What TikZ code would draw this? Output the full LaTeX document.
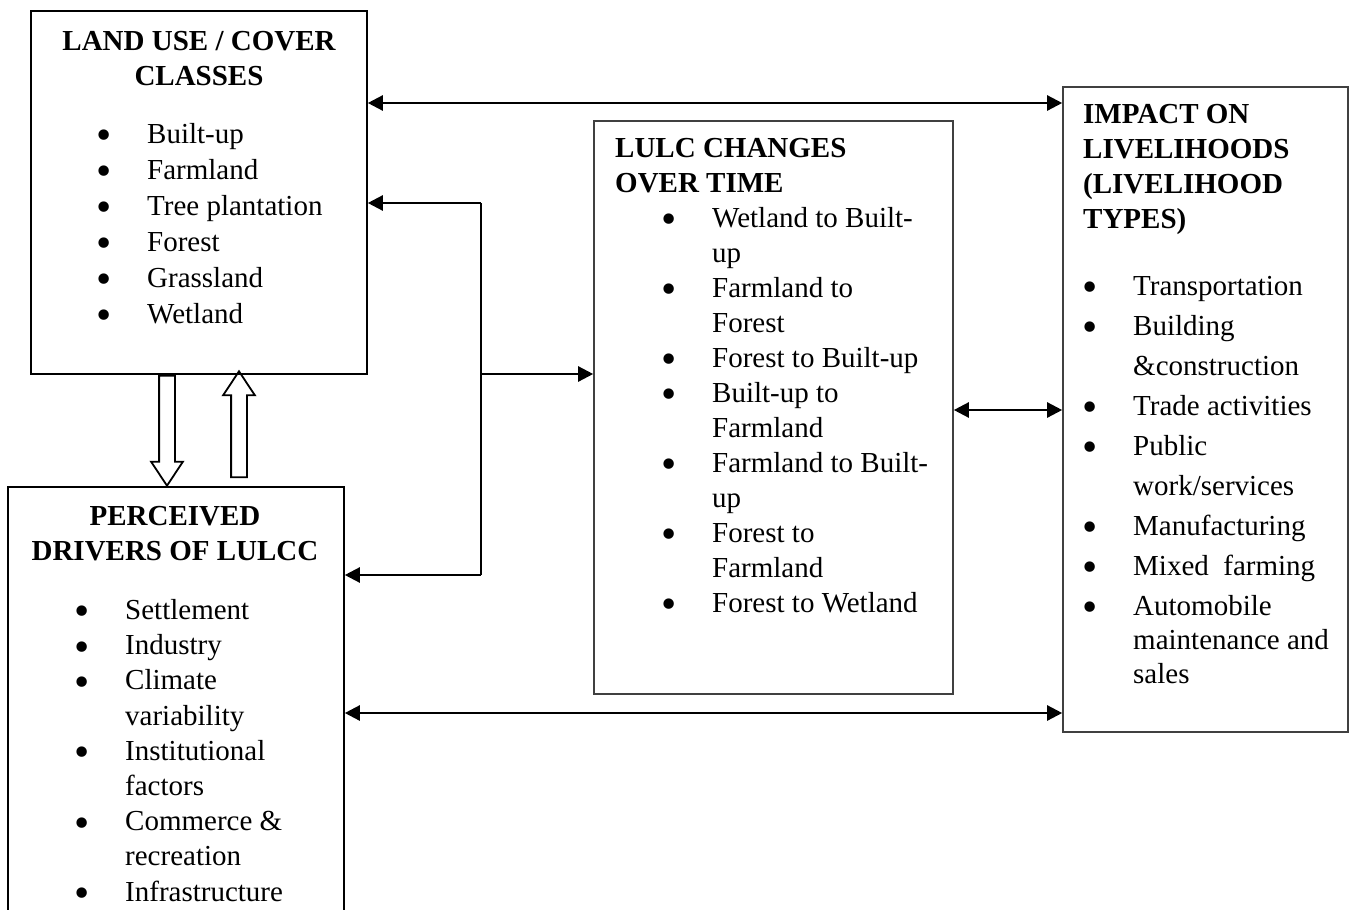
\documentclass[tikz,border=0pt]{standalone}
\usepackage{fontspec}
\setmainfont{Liberation Serif}
\usetikzlibrary{arrows.meta,shapes.arrows}
\tikzset{
  box/.style={draw=#1,line width=1.6pt,inner sep=0pt},
  box/.default={black},
  hd/.style={font=\fontsize{29}{35}\selectfont\bfseries,inner sep=0pt},
  lst/.style={font=\fontsize{29}{#1}\selectfont,inner sep=0pt,align=left,anchor=base west},
  arr/.style={-{Triangle[length=15pt,width=15pt]},line width=2.4pt},
  dbl/.style={{Triangle[length=15pt,width=15pt]}-{Triangle[length=15pt,width=15pt]},line width=2.4pt},
  hollow/.style={draw,line width=1.8pt,single arrow,single arrow head extend=8pt,single arrow tip angle=67,inner sep=0pt,inner ysep=7pt,minimum height=#1},
}
\newcommand{\bul}{\makebox[0pt]{\raisebox{-6.5pt}{\scalebox{1.5}{\textbullet}}}\hspace*{43pt}}
\newcommand{\ind}{\hspace*{43pt}}

\begin{document}
\begin{tikzpicture}[x=1pt,y=-1pt]
 \useasboundingbox (0,0) rectangle (1352,910);
 \clip (0,0) rectangle (1352,910);
 % boxes
 \node[box,minimum width=336pt,minimum height=363pt] (luc) at (199,192.5) {};
 \node[box,minimum width=336pt,minimum height=446pt] (drv) at (176,710) {};
 \node[box=black!75,minimum width=359pt,minimum height=573pt] (chg) at (773.5,407.5) {};
 \node[box=black!75,minimum width=285pt,minimum height=645pt] (imp) at (1205.5,409.5) {};
 % headings (base = last line)
 \node[hd,align=center,anchor=base] (lucH) at (199,85) {LAND USE / COVER\\CLASSES};
 \node[hd,align=center,anchor=base] (drvH) at (175,560) {PERCEIVED\\DRIVERS OF LULCC};
 \node[hd,align=left,anchor=base west] (chgH) at (615,192) {LULC CHANGES\\OVER TIME};
 \node[hd,align=left,anchor=base west] (impH) at (1083,228) {IMPACT ON\\LIVELIHOODS\\(LIVELIHOOD\\TYPES)};
 % lists
 \node[lst=36pt] (lucL) at (104,323) {\bul Built-up\\\bul Farmland\\\bul Tree plantation\\\bul Forest\\\bul Grassland\\\bul Wetland};
 \node[lst=35.2pt] (drvL) at (82,901) {\bul Settlement\\\bul Industry\\\bul Climate\\\ind variability\\\bul Institutional\\\ind factors\\\bul Commerce \&\\\ind recreation\\\bul Infrastructure};
 \node[lst=35pt] (chgL) at (669,612) {\bul Wetland to Built-\\\ind up\\\bul Farmland to\\\ind Forest\\\bul Forest to Built-up\\\bul Built-up to\\\ind Farmland\\\bul Farmland to Built-\\\ind up\\\bul Forest to\\\ind Farmland\\\bul Forest to Wetland};
 \node[lst=40pt] (impL) at (1090,683) {\bul Transportation\\\bul Building\\\ind \&construction\\\bul Trade activities\\\bul Public\\\ind work/services\\\bul Manufacturing\\\bul Mixed\ \ farming\\\bul Automobile\\[-6pt]\ind maintenance and\\[-6pt]\ind sales};
 % hollow arrows
 \node[hollow=110pt,rotate=-90,anchor=tail] (dn) at ([xshift=-32pt]luc.south) {};
 \node[hollow=106pt,rotate=90,anchor=tail] (up) at ([xshift=63pt,yshift=8pt]drv.north) {};
 % connectors
 \coordinate (t) at ([yshift=89.5pt]luc.east);
 \draw[dbl] (t) -- (t -| imp.west);
 \coordinate (j1) at (481,203);
 \coordinate (j2) at (481,575);
 \coordinate (jm) at (481,374);
 \draw[line width=2.4pt] (j1) -- (j2);
 \draw[arr] (j1) -- (j1 -| luc.east);
 \draw[arr] (j2) -- (j2 -| drv.east);
 \draw[arr] (jm) -- (jm -| chg.west);
 \coordinate (m) at ([yshift=-2.5pt]chg.east);
 \draw[dbl] (m) -- (m -| imp.west);
 \coordinate (b) at ([yshift=-3pt]drv.east);
 \draw[dbl] (b) -- (b -| imp.west);
\end{tikzpicture}
\end{document}
